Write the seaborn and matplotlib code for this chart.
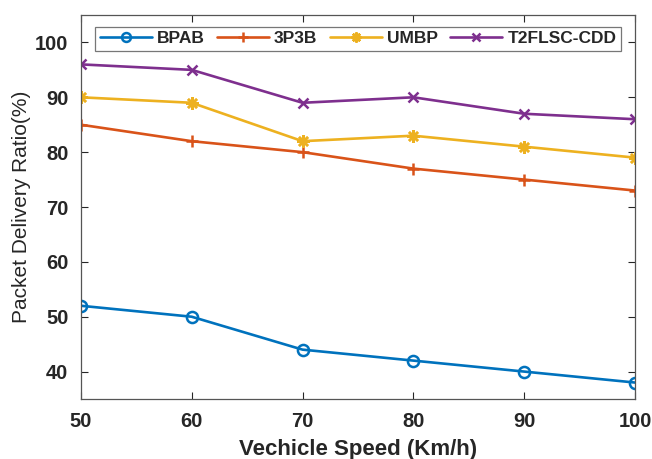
import matplotlib
matplotlib.use("Agg")
import matplotlib.pyplot as plt
import seaborn as sns
import pandas as pd

speeds = [50, 60, 70, 80, 90, 100]
bpab = [52, 50, 44, 42, 40, 38]
p3p3b = [85, 82, 80, 77, 75, 73]
umbp = [90, 89, 82, 83, 81, 79]
t2flsc = [96, 95, 89, 90, 87, 86]
series_names = ["BPAB", "3P3B", "UMBP", "T2FLSC-CDD"]
yticks = [40, 50, 60, 70, 80, 90, 100]
xticks = [50, 60, 70, 80, 90, 100]

sns.set_theme(style="white")
plt.rcParams['font.family'] = ['Liberation Sans', 'DejaVu Sans']

colors = ["#0072BD", "#D95319", "#EDB120", "#7E2F8E"]
markers = ["o", "+", (8, 2, 0), "x"]
msizes = [8, 9, 9, 7]
mfc = ["none", None, None, None]

fig = plt.figure(figsize=(6.52, 4.59), dpi=100)
ax = fig.add_axes([0.124, 0.1307, 0.850, 0.8366])
for name, vals, c, m, ms, fc in zip(series_names, [bpab, p3p3b, umbp, t2flsc],
                                    colors, markers, msizes, mfc):
    df = pd.DataFrame({"speed": speeds, "pdr": vals})
    kw = dict(marker=m, markersize=ms, markeredgewidth=1.8, markeredgecolor=c)
    kw["markerfacecolor"] = fc if fc is not None else c
    sns.lineplot(data=df, x="speed", y="pdr", color=c, linewidth=1.9,
                 label=name, ax=ax, **kw)

ax.set_xlim(50, 100)
ax.set_ylim(35, 105)
ax.set_xticks(xticks)
ax.set_yticks(yticks)
ax.tick_params(direction="in", length=5, width=0.8, labelsize=14.5, pad=9,
               top=True, right=True, bottom=True, left=True, colors="#262626")
for lab in ax.get_xticklabels() + ax.get_yticklabels():
    lab.set_fontweight("bold")
    lab.set_color("#262626")
for s in ax.spines.values():
    s.set_color("#555555")
    s.set_linewidth(0.9)
ax.set_xlabel("Vechicle Speed (Km/h)", fontsize=16, fontweight="bold", labelpad=6, color="#262626")
ax.set_ylabel("Packet Delivery Ratio(%)", fontsize=15, fontweight="normal", labelpad=3, color="#262626")

leg = ax.legend(loc="upper center", ncol=4, bbox_to_anchor=(0.5, 0.969),
                borderaxespad=0, frameon=True, fancybox=False, edgecolor="#555555",
                prop={"weight": "bold", "size": 12.5}, handlelength=3.0,
                columnspacing=0.7, handletextpad=0.3, borderpad=0.25,
                markerscale=0.8)
leg.get_frame().set_linewidth(0.9)

fig.savefig("out.png", dpi=100)
